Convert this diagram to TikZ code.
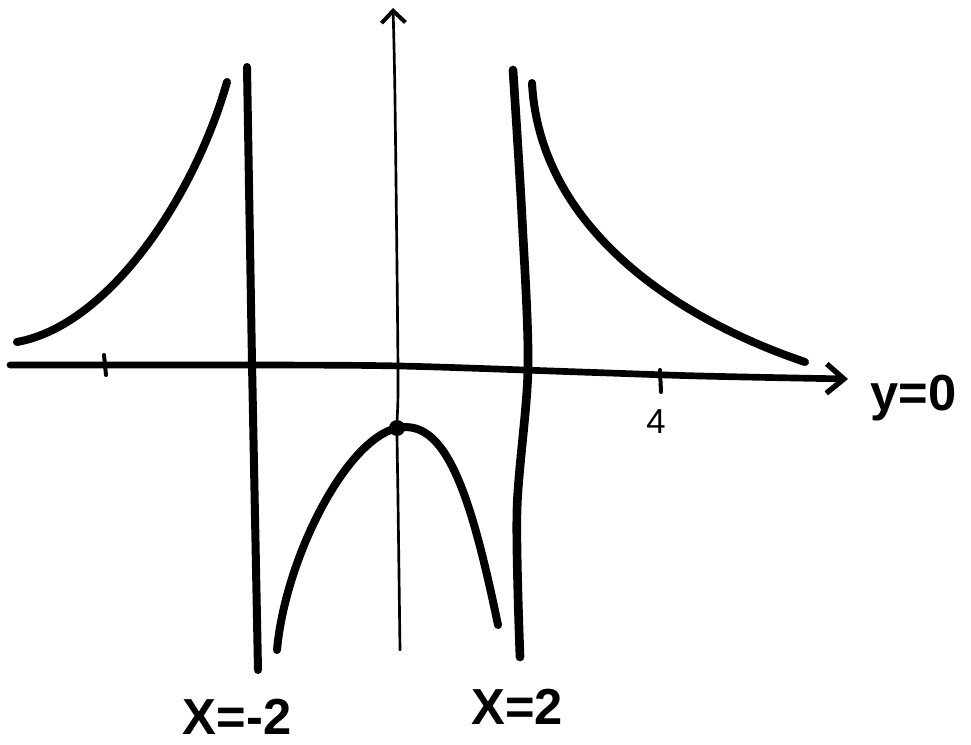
\documentclass[tikz,border=0pt]{standalone}
\usepackage{fontspec}
\setmainfont{Liberation Sans}
\usetikzlibrary{arrows.meta}

\begin{document}
\begin{tikzpicture}[x=0.75pt, y=-0.75pt, >=stealth, line join=round, line cap=round]
    \useasboundingbox (0,0) rectangle (971,745);
    \tikzset{curve/.style={line width=6pt}, lbl/.style={font=\bfseries\fontsize{38}{40}\selectfont, anchor=base, inner sep=0pt}}
    % axes
    \draw[line width=5pt, -{Straight Barb[length=13pt,width=22pt,line width=4pt]}] plot[smooth] coordinates {(10,365) (252,365) (400,366) (580,372) (700,376) (848,379)};
    \draw[line width=2pt, -{Straight Barb[length=9pt,width=18pt,line width=3pt]}] plot[smooth] coordinates {(400,650) (398,500) (397,428) (398,370) (395,100) (393,8)};
    \draw[line width=3pt] (104,355) -- (106,375);
    \draw[line width=3pt] (660,370) -- (661,392);
    \node[font=\fontsize{26}{28}\selectfont, anchor=base, inner sep=0pt] (four) at (656,433) {4};
    \node[lbl, anchor=base west] (yzero) at (870,410) {y=0};
    % asymptotes
    \draw[line width=6pt] (247,67) -- (252,363) -- (258,670);
    \draw[line width=6.5pt] plot[smooth] coordinates {(513,70) (522,217) (528,368) (517,510) (520,657)};
    \node[lbl] (xleft) at (237,734) {X=-2};
    \node[lbl] (xright) at (517,724) {X=2};
    % branches
    \draw[curve] (17,342) .. controls (110,325) and (195,195) .. (227,82);
    \draw[curve] (532,83) .. controls (540,230) and (680,320) .. (805,362);
    \draw[curve] (277,650) .. controls (285,560) and (345,440) .. (397,428)
                 .. controls (445,418) and (470,490) .. (498,625);
    \fill (397,428) circle (6pt);
\end{tikzpicture}
\end{document}
